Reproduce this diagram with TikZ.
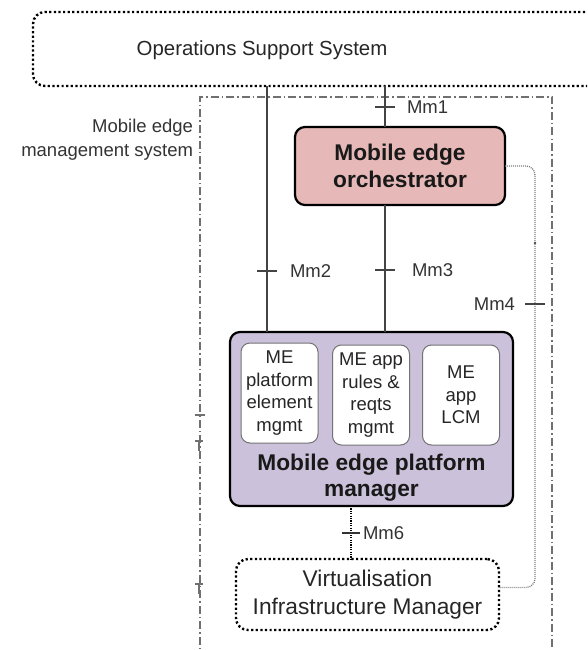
\documentclass[tikz,border=0pt]{standalone}
\usepackage{fontspec}
\setmainfont{Liberation Sans}
\definecolor{meofill}{HTML}{E6B9B8}
\definecolor{mepmfill}{HTML}{CCC1DA}
\definecolor{framegray}{HTML}{707070}
\definecolor{linegray}{HTML}{444444}
\begin{document}
\begin{tikzpicture}[x=1pt,y=-1pt,
  every node/.style={inner sep=0pt, outer sep=0pt},
  dotbox/.style={draw=black, line width=2.4pt, dash pattern=on 2.2pt off 2.4pt, rounded corners=12pt},
  mgmtframe/.style={draw=framegray, line width=1.5pt, dash pattern=on 8pt off 3pt on 1.5pt off 3pt},
  solidbox/.style={draw=black, line width=2.2pt, rounded corners=10pt},
  subbox/.style={draw=black!55, line width=1pt, fill=white, rounded corners=9pt,
    minimum width=77pt, minimum height=100pt, align=center,
    font=\fontsize{18.5}{22.5}\selectfont, text=black!85},
  iface/.style={draw=linegray, line width=1.3pt},
  tick/.style={draw=linegray, line width=1.3pt},
  mm4line/.style={draw=black!50, line width=1.3pt, dash pattern=on 1pt off 1pt},
  mm6line/.style={draw=black, line width=1.3pt, dash pattern=on 1.2pt off 1.2pt},
  lbl/.style={font=\fontsize{18.5}{24}\selectfont, text=black!80},
  boldlbl/.style={font=\fontsize{22.7}{26.5}\selectfont\bfseries, align=center, text=black!90},
]
\useasboundingbox (0,0) rectangle (587,650);
\clip (0,0) rectangle (587,650);

% Operations support system (runs off the right edge)
\node[dotbox, minimum width=610pt, minimum height=74pt, anchor=north west] (oss) at (33,12) {};
\node[font=\fontsize{20.4}{24}\selectfont, text=black!85] (osstext) at (262,50) {Operations Support System};

% Mobile edge management system frame
\draw[mgmtframe] (200,660) -- (200,97) -- (552,97) -- (552,660);
\node[lbl, align=right, anchor=east] (memslabel) at (193,140) {Mobile edge\\management system};

% Orchestrator
\node[solidbox, fill=meofill, minimum width=210pt, minimum height=78pt, boldlbl] (meo) at (400,166) {Mobile edge\\orchestrator};

% Platform manager with its three functions
\node[solidbox, fill=mepmfill, minimum width=283pt, minimum height=174pt, anchor=north west] (mepm) at (230,332) {};
\node[boldlbl] (mepmtext) at (371.5,477.5) {Mobile edge platform\\manager};
\node[subbox] (pem) at (279.5,393) {ME\\platform\\element\\mgmt};
\node[subbox] (rules) at (371,395) {ME app\\rules \&\\reqts\\mgmt};
\node[subbox] (lcm) at (461,395) {ME\\app\\LCM};

% Virtualisation infrastructure manager
\node[dotbox, minimum width=263pt, minimum height=71pt, align=center,
  font=\fontsize{22.7}{28}\selectfont, text=black!85] (vim) at (367.5,594.5) {Virtualisation\\Infrastructure Manager};

% Reference points of the interfaces
\coordinate (x2) at (267,0);
\coordinate (x3) at (385,0);
\coordinate (t1) at (385,107);
\coordinate (t2) at (267,271);
\coordinate (t3) at (385,270);
\coordinate (t4) at (535,304);
\coordinate (t6) at (351,533);

% Mm1, Mm2, Mm3
\draw[iface] (x2 |- oss.south) -- (x2 |- mepm.north);
\draw[iface] (x3 |- oss.south) -- (x3 |- meo.north);
\draw[iface] (x3 |- meo.south) -- (x3 |- mepm.north);
\draw[tick] ([xshift=-10pt]t1) -- ([xshift=10pt]t1);
\draw[tick] ([xshift=-10pt]t2) -- ([xshift=10pt]t2);
\draw[tick] ([xshift=-10pt]t3) -- ([xshift=10pt]t3);
\node[lbl, anchor=west] (mm1) at ([xshift=22pt]t1) {Mm1};
\node[lbl, anchor=west] (mm2) at ([xshift=23pt]t2) {Mm2};
\node[lbl, anchor=west] (mm3) at ([xshift=27pt]t3) {Mm3};

% Mm4
\draw[mm4line, rounded corners=9pt] (meo.east) -| (t4) |- ([yshift=7pt]vim.east);
\fill[black!70] (535,243) circle (1.3pt);
\draw[tick] ([xshift=-10pt]t4) -- ([xshift=10pt]t4);
\node[lbl, anchor=east] (mm4) at ([xshift=-20pt]t4) {Mm4};

% Mm6
\draw[mm6line] (mepm.south -| t6) -- (vim.north -| t6);
\draw[tick, draw=black!80] ([xshift=-9pt]t6) -- ([xshift=9pt]t6);
\node[lbl, anchor=west] (mm6) at ([xshift=12pt]t6) {Mm6};

% Short marks on the left side of the frame
\draw[framegray, line width=1.2pt] (195,415) -- (205,415);
\draw[framegray, line width=1.2pt] (195,441) -- (203,441) (199,441) -- (199,451);
\draw[framegray, line width=1.2pt] (195,584) -- (203,584) (199,584) -- (199,594);
\end{tikzpicture}
\end{document}
